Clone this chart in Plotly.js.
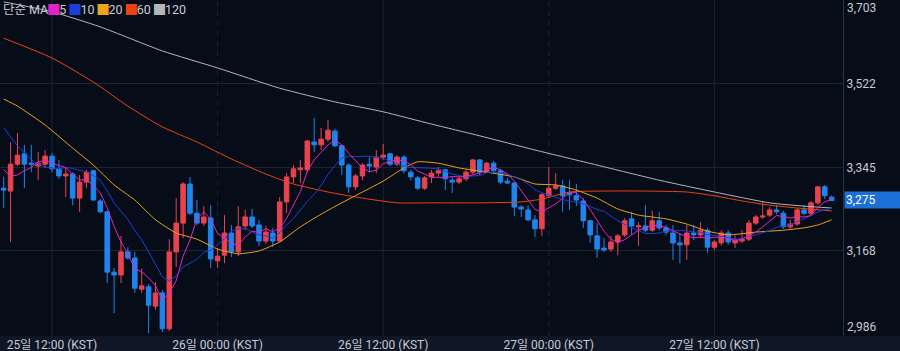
<!DOCTYPE html>
<html>
<head>
<meta charset="utf-8">
<script src="https://cdn.plot.ly/plotly-3.0.1.min.js"></script>
<style>
html,body{margin:0;padding:0;background:#060d19;}
#chart{width:900px;height:351px;}
</style>
</head>
<body>
<div id="chart"></div>
<script>
// 30-minute candles, first candle at 25일 08:30 (KST)
const firstCandle = [2025, 7, 25, 8, 30];
const stepMinutes = 30;

const open = [
  3301,3295,3352,3374,3354,3348,3352,3369,3342,3327,3331,3280,3314,3338,3274,3251,3123,3117,3166,3153,
  3087,3092,3051,3079,3003,3166,3227,3310,3248,3227,3238,3147,3159,3206,3166,3221,3240,3223,3189,3206,
  3189,3272,3325,3340,3340,3399,3393,3405,3422,3391,3350,3304,3327,3352,3346,3367,3374,3352,3367,3335,
  3323,3301,3325,3333,3340,3318,3314,3321,3335,3361,3335,3354,3338,3316,3312,3261,3255,3234,3215,3285,
  3301,3306,3291,3285,3274,3232,3200,3174,3172,3187,3202,3236,3219,3221,3212,3232,3217,3206,3185,3181,
  3206,3202,3212,3176,3185,3206,3185,3189,3193,3227,3240,3244,3255,3248,3219,3225,3255,3248,3270,3304,
  3282
];
const high = [
  3325,3399,3418,3393,3393,3378,3382,3376,3361,3344,3335,3329,3340,3340,3278,3253,3132,3200,3176,3166,
  3130,3098,3102,3085,3193,3280,3314,3325,3276,3263,3265,3174,3244,3223,3263,3255,3257,3234,3221,3217,
  3282,3333,3350,3361,3403,3450,3429,3446,3427,3393,3354,3331,3354,3367,3382,3395,3376,3371,3371,3340,
  3327,3327,3340,3346,3342,3325,3327,3340,3363,3363,3357,3359,3342,3323,3314,3265,3265,3244,3291,3346,
  3333,3318,3318,3310,3280,3234,3227,3195,3200,3204,3238,3251,3229,3265,3253,3251,3223,3223,3206,3223,
  3223,3229,3217,3191,3212,3212,3200,3212,3234,3244,3272,3261,3265,3253,3234,3259,3265,3274,3306,3308,
  3286
];
const low = [
  3259,3187,3348,3301,3335,3318,3344,3335,3321,3282,3265,3251,3301,3274,3248,3100,3036,3100,3149,3079,
  3079,2994,3043,2996,2998,3134,3195,3244,3223,3221,3132,3132,3142,3155,3157,3212,3217,3179,3183,3176,
  3187,3248,3312,3312,3335,3378,3382,3399,3388,3329,3291,3297,3318,3335,3333,3361,3348,3348,3333,3318,
  3297,3297,3312,3325,3297,3291,3310,3316,3331,3329,3333,3335,3310,3310,3242,3240,3231,3198,3200,3280,
  3297,3251,3255,3263,3217,3185,3153,3166,3166,3159,3198,3202,3179,3208,3208,3212,3202,3149,3142,3149,
  3191,3195,3164,3170,3179,3181,3174,3185,3189,3223,3236,3240,3246,3215,3215,3221,3244,3244,3265,3278,
  3274
];
const close = [
  3297,3352,3371,3352,3352,3354,3369,3342,3327,3331,3280,3314,3335,3276,3251,3123,3117,3166,3153,3089,
  3094,3053,3079,3003,3166,3227,3310,3248,3227,3240,3151,3157,3206,3166,3219,3240,3221,3189,3208,3189,
  3272,3325,3342,3344,3401,3393,3405,3424,3391,3350,3304,3327,3350,3348,3367,3371,3352,3367,3338,3325,
  3301,3323,3333,3338,3321,3314,3321,3335,3361,3335,3354,3338,3314,3312,3261,3257,3234,3215,3287,3301,
  3306,3285,3287,3276,3232,3202,3172,3170,3187,3200,3232,3221,3221,3212,3232,3217,3208,3185,3181,3206,
  3202,3212,3176,3187,3206,3187,3191,3193,3227,3240,3242,3255,3251,3219,3225,3255,3248,3270,3304,3285,
  3275
];

// Moving averages
const ma5 = [
  3340,3327,3329,3338,3345,3357,3360,3354,3349,3345,3330,3319,3318,3307,3291,3260,3220,3187,3162,3130,
  3124,3111,3094,3064,3079,3105,3157,3191,3236,3251,3235,3205,3196,3184,3180,3198,3210,3207,3215,3209,
  3216,3237,3267,3294,3337,3361,3377,3393,3403,3393,3375,3359,3344,3336,3339,3353,3358,3361,3359,3351,
  3337,3331,3324,3324,3323,3326,3325,3326,3330,3333,3341,3345,3340,3331,3316,3296,3276,3256,3251,3259,
  3268,3279,3293,3291,3277,3256,3234,3210,3193,3186,3192,3202,3212,3217,3223,3221,3218,3211,3204,3199,
  3196,3197,3195,3197,3197,3194,3190,3193,3200,3208,3219,3232,3243,3241,3238,3241,3240,3243,3260,3272,
  3277
];
const ma10 = [
  3429,3410,3391,3376,3361,3352,3346,3344,3342,3345,3343,3339,3336,3328,3318,3295,3270,3252,3235,3211,
  3192,3166,3140,3113,3104,3115,3134,3142,3150,3165,3170,3181,3194,3210,3215,3216,3208,3202,3200,3195,
  3207,3223,3237,3255,3273,3288,3307,3330,3349,3365,3368,3368,3369,3369,3366,3364,3359,3353,3347,3345,
  3345,3344,3343,3342,3337,3331,3328,3325,3327,3328,3334,3335,3333,3331,3325,3319,3310,3298,3291,3287,
  3282,3277,3274,3271,3268,3262,3256,3252,3242,3232,3224,3218,3211,3205,3205,3206,3210,3211,3211,3211,
  3208,3208,3203,3201,3198,3195,3193,3194,3199,3202,3206,3211,3218,3221,3223,3230,3236,3243,3251,3255,
  3259
];
const ma20Idx = [0,2,6,10,13,16,19,22,25,28,31,34,37,40,43,46,49,52,55,58,60,63,66,70,74,77,80,83,86,89,92,96,99,102,105,109,113,116,118,120];
const ma20 = [3490,3475,3435,3386,3350,3308,3276,3234,3206,3193,3172,3162,3168,3187,3219,3246,3270,3293,3316,3344,3357,3354,3344,3335,3325,3310,3308,3297,3280,3257,3244,3236,3225,3210,3202,3208,3212,3217,3223,3234];
const ma60Idx = [0,7,13,18,23,28,33,38,42,47,52,57,62,69,75,78,82,87,93,99,103,107,111,115,120];
const ma60 = [3619,3577,3526,3475,3431,3399,3363,3331,3310,3293,3280,3270,3270,3270,3272,3278,3293,3295,3295,3293,3285,3274,3265,3259,3253];
const ma120Idx = [0,7,14,23,31,40,48,55,62,69,77,86,95,103,111,116,120];
const ma120 = [3696,3675,3643,3592,3556,3513,3484,3463,3437,3412,3382,3350,3318,3293,3270,3263,3259];

// Axis ticks
const xTickTimes = ['2025-08-25 12:00','2025-08-26 00:00','2025-08-26 12:00','2025-08-27 00:00','2025-08-27 12:00'];
const xTickLabels = ['25일 12:00 (KST)','26일 00:00 (KST)','26일 12:00 (KST)','27일 00:00 (KST)','27일 12:00 (KST)'];
const xTickIsDayStart = [false,true,false,true,false];
const yTickVals = [3168,3345,3522];
const yTickLabels = ['3,168','3,345','3,522'];
const yTopLabel = '3,703';
const yBottomLabel = '2,986';
const yRange = [2987.7, 3700];
const xRangeCandles = [-0.536, 121.64];

const maNames = ['5','10','20','60','120'];
const maColors = ['#e324c4','#1c3fd6','#f0a21a','#f0420f','#b4b6ba'];
const upColor = '#e8434f';
const downColor = '#1f85ee';

function timeAt(i){
  const base = Date.UTC(firstCandle[0], firstCandle[1], firstCandle[2], firstCandle[3], firstCandle[4]);
  const d = new Date(base + Math.round(i * stepMinutes * 60000));
  const p = v => String(v).padStart(2,'0');
  return d.getUTCFullYear()+'-'+p(d.getUTCMonth()+1)+'-'+p(d.getUTCDate())+' '+p(d.getUTCHours())+':'+p(d.getUTCMinutes())+':'+p(d.getUTCSeconds());
}
const times = open.map((_, i) => timeAt(i));

const font = "Roboto, 'Noto Sans CJK KR', sans-serif";
const textColor = '#c6cad3';

const traces = [
  {
    type:'candlestick', x:times, open:open, high:high, low:low, close:close,
    increasing:{line:{color:upColor, width:1}, fillcolor:upColor},
    decreasing:{line:{color:downColor, width:1}, fillcolor:downColor},
    whiskerwidth:0, hoverinfo:'skip', showlegend:false
  },
  {type:'scatter', mode:'lines', x:ma120Idx.map(timeAt), y:ma120, line:{color:maColors[4], width:1, shape:'spline', smoothing:0.6}, hoverinfo:'skip', showlegend:false},
  {type:'scatter', mode:'lines', x:ma60Idx.map(timeAt), y:ma60, line:{color:maColors[3], width:1, shape:'spline', smoothing:0.6}, hoverinfo:'skip', showlegend:false},
  {type:'scatter', mode:'lines', x:ma20Idx.map(timeAt), y:ma20, line:{color:maColors[2], width:1, shape:'spline', smoothing:0.5}, hoverinfo:'skip', showlegend:false},
  {type:'scatter', mode:'lines', x:times, y:ma10, line:{color:maColors[1], width:1}, hoverinfo:'skip', showlegend:false},
  {type:'scatter', mode:'lines', x:times, y:ma5, line:{color:maColors[0], width:1}, hoverinfo:'skip', showlegend:false}
];

const shapes = [
  {type:'rect', xref:'paper', yref:'paper', x0:0, x1:900/843, y0:-15/336, y1:0, fillcolor:'#0f1625', line:{width:0}, layer:'below'}
];
xTickTimes.forEach((t, i) => {
  shapes.push({type:'line', xref:'x', yref:'paper', x0:t, x1:t, y0:0, y1:1,
    line:{color:'#1c2431', width:1, dash: xTickIsDayStart[i] ? '5px,5px' : 'solid'}, layer:'below'});
});

let legendText = '단순 MA';
maNames.forEach((n, i) => {
  legendText += '<span style="color:' + maColors[i] + ';font-size:11px">█</span>' + n + (i < maNames.length - 1 ? ' ' : '');
});

const annotations = [
  {xref:'paper', yref:'paper', x:0, y:1, xanchor:'left', yanchor:'top', xshift:1, yshift:0,
   text:legendText, showarrow:false, font:{family:font, size:12.5, color:textColor}},
  {xref:'paper', yref:'paper', x:1, y:1, xanchor:'left', yanchor:'top', xshift:2, yshift:1,
   text:yTopLabel, showarrow:false, font:{family:font, size:12, color:textColor}},
  {xref:'paper', yref:'paper', x:1, y:0, xanchor:'left', yanchor:'bottom', xshift:2, yshift:0,
   text:yBottomLabel, showarrow:false, font:{family:font, size:12, color:textColor}},
  {xref:'paper', yref:'y', x:1, y:close[close.length-1], xanchor:'left', yanchor:'middle', xshift:1,
   text:close[close.length-1].toLocaleString('en-US'), showarrow:false, bgcolor:'#1b6fd6', borderpad:1,
   width:54, align:'left', font:{family:font, size:12, color:'#ffffff'}}
];

const layout = {
  width:900, height:351,
  margin:{l:0, r:57, t:0, b:15, pad:0},
  paper_bgcolor:'#060d19', plot_bgcolor:'#060d19',
  showlegend:false,
  boxgap:0.06,
  xaxis:{
    type:'date', range:[timeAt(xRangeCandles[0]), timeAt(xRangeCandles[1])],
    rangeslider:{visible:false}, showgrid:false, zeroline:false, showline:false,
    tickmode:'array', tickvals:xTickTimes, ticktext:xTickLabels, ticks:'',
    tickfont:{family:font, size:12, color:textColor}, fixedrange:true
  },
  yaxis:{
    side:'right', range:yRange, tickmode:'array', tickvals:yTickVals, ticktext:yTickLabels,
    showgrid:true, gridcolor:'#1c2431', gridwidth:1, zeroline:false,
    showline:true, linecolor:'#2a3342', linewidth:1, ticks:'',
    tickfont:{family:font, size:12, color:textColor}, fixedrange:true
  },
  shapes:shapes,
  annotations:annotations,
  hovermode:false
};

Plotly.newPlot('chart', traces, layout, {displayModeBar:false, staticPlot:true});
</script>
</body>
</html>
